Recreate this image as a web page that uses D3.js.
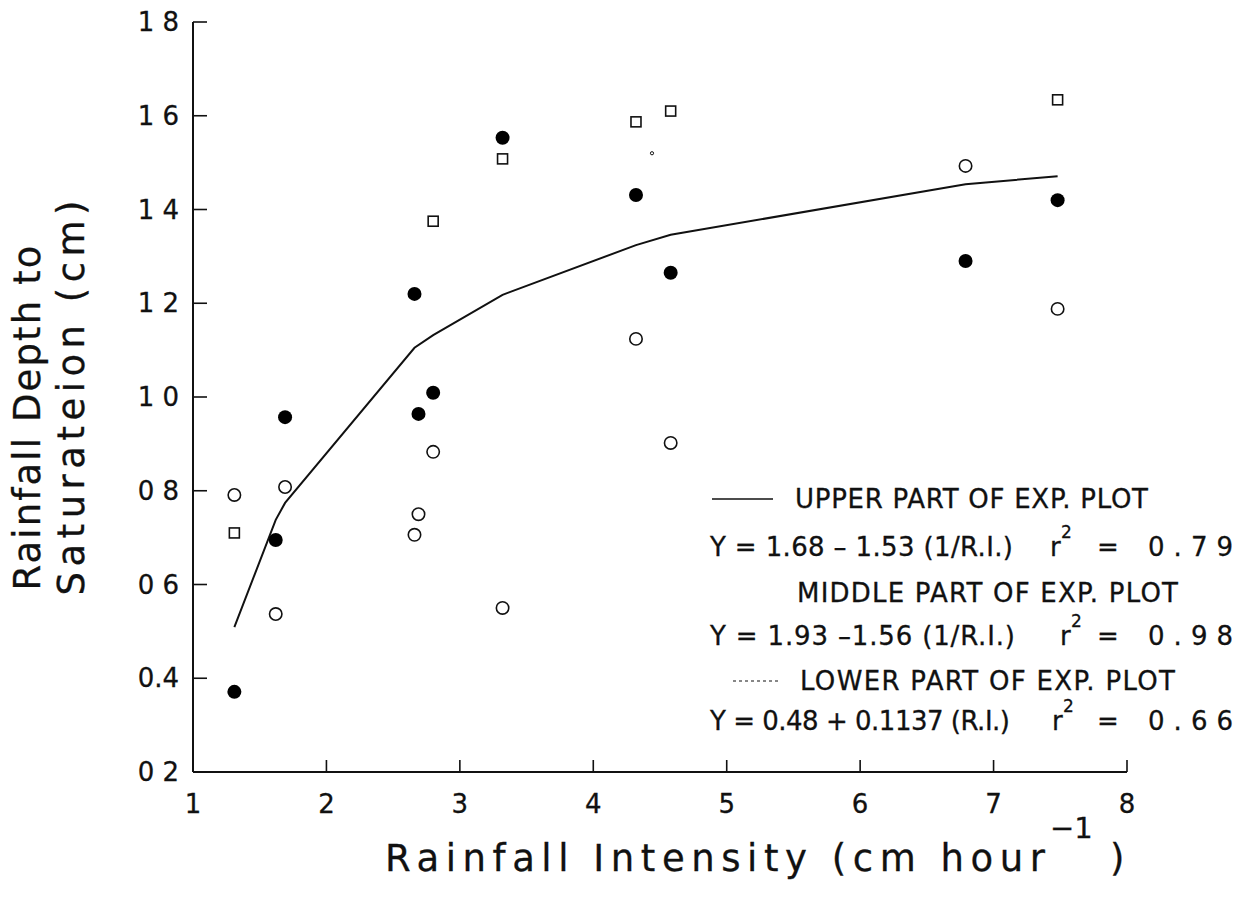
<!DOCTYPE html>
<html>
<head>
<meta charset="utf-8">
<script src="https://cdn.jsdelivr.net/npm/d3@7"></script>
<style>
  html, body { margin: 0; padding: 0; background: #fff; }
  svg { display: block; }
  text { font-family: "DejaVu Sans", "Liberation Sans", sans-serif; fill: #111; stroke: #111; stroke-width: 0.3; }
</style>
</head>
<body>
<svg id="chart" width="1245" height="923"></svg>
<script>
// ---- data ----
const filledX = [1.31, 1.62, 1.69, 2.66, 2.69, 2.80, 3.32, 4.32, 4.58, 6.79, 7.48];
const filledY = [0.371, 0.695, 0.957, 1.220, 0.964, 1.009, 1.553, 1.431, 1.265, 1.290, 1.420];
const openCircX = [1.31, 1.69, 1.62, 2.66, 2.69, 2.80, 3.32, 4.32, 4.58, 6.79, 7.48];
const openCircY = [0.791, 0.808, 0.537, 0.706, 0.750, 0.883, 0.550, 1.124, 0.902, 1.493, 1.188];
const squareX = [1.31, 2.80, 3.32, 4.32, 4.58, 7.48];
const squareY = [0.710, 1.375, 1.508, 1.587, 1.610, 1.634];
const tinyX = [4.44];
const tinyY = [1.52];
const curveX = [1.31, 1.62, 1.69, 2.66, 2.80, 3.32, 4.32, 4.58, 6.79, 7.48];
const curveY = [0.509, 0.738, 0.774, 1.105, 1.132, 1.218, 1.324, 1.346, 1.454, 1.471];
const xTicks = [1, 2, 3, 4, 5, 6, 7, 8];
const yTicks = [0.2, 0.4, 0.6, 0.8, 1.0, 1.2, 1.4, 1.6, 1.8];
const yTickLabels = ["0 2", "0.4", "0 6", "0 8", "1 0", "1 2", "1 4", "1 6", "1 8"];
const legendUpper = "UPPER PART OF EXP. PLOT";
const legendMiddle = "MIDDLE PART OF EXP. PLOT";
const legendLower = "LOWER PART OF EXP. PLOT";
const eqUpper = ["Y = 1.68 \u2013 1.53 (1/R.I.)", "r", "2", "=", "0.79"];
const eqMiddle = ["Y = 1.93 \u20131.56 (1/R.I.)", "r", "2", "=", "0.98"];
const eqLower = ["Y = 0.48 + 0.1137 (R.I.)", "r", "2", "=", "0.66"];

// ---- layout ----
const svg = d3.select("#chart");
const x = d3.scaleLinear().domain([1, 8]).range([193, 1127]);
const y = d3.scaleLinear().domain([0.2, 1.8]).range([772, 22]);

// axes
const g = svg.append("g");
g.append("line").attr("x1", x(1)).attr("x2", x(8)).attr("y1", y(0.2)).attr("y2", y(0.2))
  .attr("stroke", "#111").attr("stroke-width", 2);
g.append("line").attr("x1", x(1)).attr("x2", x(1)).attr("y1", y(0.2)).attr("y2", y(1.8))
  .attr("stroke", "#111").attr("stroke-width", 2);

g.selectAll(".xt").data(xTicks).enter().append("line")
  .attr("x1", d => x(d)).attr("x2", d => x(d))
  .attr("y1", y(0.2)).attr("y2", y(0.2) - 12)
  .attr("stroke", "#111").attr("stroke-width", 1.6);
g.selectAll(".xl").data(xTicks).enter().append("text")
  .attr("x", d => x(d)).attr("y", y(0.2) + 41)
  .attr("text-anchor", "middle").attr("font-size", 26).text(d => d);

g.selectAll(".yt").data(yTicks).enter().append("line")
  .attr("x1", x(1)).attr("x2", x(1) + 14)
  .attr("y1", d => y(d)).attr("y2", d => y(d))
  .attr("stroke", "#111").attr("stroke-width", 1.6);
g.selectAll(".yl").data(yTicks).enter().append("text")
  .attr("x", x(1) - 14).attr("y", d => y(d) + 9)
  .attr("text-anchor", "end").attr("font-size", 26)
  .text((d, i) => yTickLabels[i]);

// curve
const curve = curveX.map((v, i) => [v, curveY[i]]);
svg.append("path").datum(curve)
  .attr("d", d3.line().x(d => x(d[0])).y(d => y(d[1])))
  .attr("fill", "none").attr("stroke", "#111").attr("stroke-width", 2);

// markers
svg.selectAll(".fc").data(filledX.map((v, i) => [v, filledY[i]])).enter().append("circle")
  .attr("cx", d => x(d[0])).attr("cy", d => y(d[1])).attr("r", 7).attr("fill", "#000");
svg.selectAll(".oc").data(openCircX.map((v, i) => [v, openCircY[i]])).enter().append("circle")
  .attr("cx", d => x(d[0])).attr("cy", d => y(d[1])).attr("r", 6.2)
  .attr("fill", "#fff").attr("stroke", "#111").attr("stroke-width", 1.6);
svg.selectAll(".sq").data(squareX.map((v, i) => [v, squareY[i]])).enter().append("rect")
  .attr("x", d => x(d[0]) - 5).attr("y", d => y(d[1]) - 5).attr("width", 10).attr("height", 10)
  .attr("fill", "#fff").attr("stroke", "#111").attr("stroke-width", 1.6);
svg.selectAll(".tn").data(tinyX.map((v, i) => [v, tinyY[i]])).enter().append("circle")
  .attr("cx", d => x(d[0])).attr("cy", d => y(d[1])).attr("r", 1.6)
  .attr("fill", "#fff").attr("stroke", "#111").attr("stroke-width", 1);

// legend
const L = svg.append("g").attr("font-size", 26);
L.append("line").attr("x1", 712).attr("x2", 773).attr("y1", 499).attr("y2", 499)
  .attr("stroke", "#111").attr("stroke-width", 1.4);
L.append("text").attr("x", 795).attr("y", 508).attr("textLength", 353)
  .attr("lengthAdjust", "spacing").text(legendUpper);
L.append("text").attr("x", 797).attr("y", 602).attr("textLength", 381)
  .attr("lengthAdjust", "spacing").text(legendMiddle);
L.append("line").attr("x1", 733).attr("x2", 778).attr("y1", 681).attr("y2", 681)
  .attr("stroke", "#111").attr("stroke-width", 1.2).attr("stroke-dasharray", "3,3");
L.append("text").attr("x", 800).attr("y", 690).attr("textLength", 375)
  .attr("lengthAdjust", "spacing").text(legendLower);

function eq(parts, base, w0, rx) {
  L.append("text").attr("x", 710).attr("y", base).attr("textLength", w0)
    .attr("lengthAdjust", "spacing").text(parts[0]);
  L.append("text").attr("x", rx).attr("y", base).text(parts[1]);
  L.append("text").attr("x", rx + 11).attr("y", base - 18).attr("font-size", 17).text(parts[2]);
  L.append("text").attr("x", 1097).attr("y", base).text(parts[3]);
  L.append("text").attr("x", 1148).attr("y", base).attr("textLength", 85)
    .attr("lengthAdjust", "spacing").text(parts[4]);
}
eq(eqUpper, 556, 303, 1050);
eq(eqMiddle, 645, 305, 1060);
eq(eqLower, 730, 300, 1052);

// axis titles
const T = svg.append("g").attr("font-size", 37);
T.append("text").attr("x", 385).attr("y", 871).attr("textLength", 660)
  .attr("lengthAdjust", "spacing").text("Rainfall Intensity (cm hour");
T.append("text").attr("x", 1050).attr("y", 838).attr("font-size", 29).text("\u22121");
T.append("text").attr("x", 1110).attr("y", 871).text(")");

T.append("text").attr("transform", "translate(40,418) rotate(-90)")
  .attr("text-anchor", "middle").attr("textLength", 345).attr("lengthAdjust", "spacing")
  .text("Rainfall Depth to");
T.append("text").attr("transform", "translate(84,398) rotate(-90)")
  .attr("text-anchor", "middle").attr("textLength", 395).attr("lengthAdjust", "spacing")
  .text("Saturateion (cm)");
</script>
</body>
</html>
